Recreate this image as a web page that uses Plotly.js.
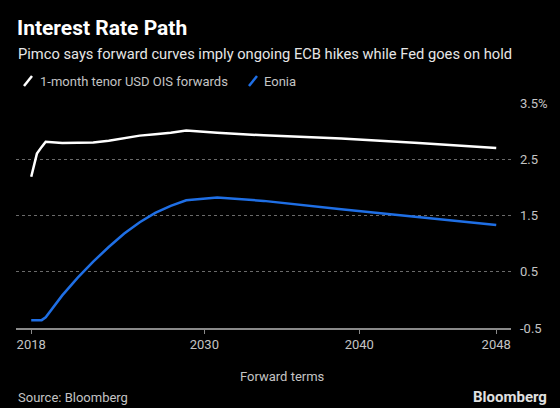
<!DOCTYPE html>
<html>
<head>
<meta charset="utf-8">
<script src="https://cdn.plot.ly/plotly-3.0.1.min.js"></script>
<style>
html,body{margin:0;padding:0;background:#000;}
#chart{width:560px;height:408px;}
</style>
</head>
<body>
<div id="chart"></div>
<script>
// Forward term dates (x) shared by both series
const forwardDates = ["2018-11-01","2018-12-28","2019-03-15","2019-07-05","2019-10-08",
  "2020-11-01","2021-11-01","2022-11-01","2023-11-01","2024-11-01","2025-11-01",
  "2026-11-01","2027-11-01","2028-11-01","2030-11-01","2033-11-01","2038-11-01",
  "2043-11-01","2048-11-01"];
// 1-month tenor USD OIS forwards (%)
const usdOis = [2.19,2.39,2.60,2.72,2.81,
  2.79,2.79,2.80,2.83,2.875,2.92,
  2.945,2.97,3.01,2.97,2.925,2.87,
  2.79,2.70];
// Eonia forwards (%)
const eonia = [-0.36,-0.36,-0.36,-0.36,-0.31,
  0.08,0.395,0.68,0.94,1.18,1.38,
  1.545,1.67,1.77,1.82,1.76,1.61,
  1.47,1.33];
const seriesNames = ["1-month tenor USD OIS forwards","Eonia"];
const xTickVals = ["2018-11-01","2030-01-01","2040-01-01","2048-11-01"];
const xTickText = ["2018","2030","2040","2048"];
const yTickVals = [-0.5,0.5,1.5,2.5,3.5];
const yTickText = ["-0.5","0.5","1.5","2.5","3.5%"];

const FONT = "Roboto, 'Liberation Sans', sans-serif";
const WHITE = "#ffffff", BLUE = "#1f6fe5", GREY = "#c4c4c4";

const traces = [
  {x: forwardDates, y: usdOis, name: seriesNames[0], type: "scatter", mode: "lines",
   line: {color: WHITE, width: 2.5}},
  {x: forwardDates, y: eonia, name: seriesNames[1], type: "scatter", mode: "lines",
   line: {color: BLUE, width: 2.5}}
];

const layout = {
  width: 560, height: 408,
  paper_bgcolor: "#000", plot_bgcolor: "#000",
  font: {family: FONT, color: GREY, size: 13},
  showlegend: false,
  margin: {l: 16, r: 49, t: 103, b: 80},
  xaxis: {
    type: "date",
    range: ["2017-11-07","2049-10-15"],
    tickvals: xTickVals, ticktext: xTickText,
    showgrid: false, zeroline: false,
    showline: true, linecolor: "#8a8a8a", linewidth: 1.5,
    ticks: "outside", ticklen: 4, tickcolor: "#8a8a8a", tickwidth: 1,
    tickfont: {family: FONT, size: 13, color: GREY}
  },
  yaxis: {
    side: "right",
    range: [-0.5, 3.5],
    tickvals: yTickVals, ticktext: yTickText,
    showgrid: true, gridcolor: "#6a6a6a", griddash: "dot", gridwidth: 1,
    zeroline: false, showline: false, ticks: "",
    ticklabelstandoff: 8,
    tickfont: {family: FONT, size: 13, color: GREY}
  },
  annotations: [
    {text: "<b>Interest Rate Path</b>", xref: "paper", yref: "paper", x: 0, y: 1,
     xanchor: "left", yanchor: "middle", showarrow: false,
     font: {family: FONT, size: 21, color: WHITE}},
    {text: "Pimco says forward curves imply ongoing ECB hikes while Fed goes on hold", showarrow: false,
     xref: "paper", yref: "paper", x: 0, y: 1, xanchor: "left", yanchor: "middle",
     font: {family: FONT, size: 14.7, color: "#e6e6e6"}},
    {text: seriesNames[0], showarrow: false, xref: "paper", yref: "paper", x: 0, y: 1,
     xanchor: "left", yanchor: "middle", font: {family: FONT, size: 13, color: GREY}},
    {text: seriesNames[1], showarrow: false, xref: "paper", yref: "paper", x: 0, y: 1,
     xanchor: "left", yanchor: "middle", font: {family: FONT, size: 13, color: GREY}},
    {text: "Forward terms", showarrow: false, xref: "paper", yref: "paper", x: 0, y: 0,
     xanchor: "center", yanchor: "middle", font: {family: FONT, size: 13, color: GREY}},
    {text: "Source: Bloomberg", showarrow: false, xref: "paper", yref: "paper", x: 0, y: 0,
     xanchor: "left", yanchor: "middle", font: {family: FONT, size: 13, color: GREY}},
    {text: "<b>Bloomberg</b>", showarrow: false, xref: "paper", yref: "paper", x: 1, y: 0,
     xanchor: "right", yanchor: "middle", font: {family: FONT, size: 15, color: "#e0e0e0"}}
  ],
  shapes: []
};

// Position page-level texts in pixel terms relative to the plot area
const plotL = 16, plotT = 103, plotW = 560 - 16 - 49, plotH = 408 - 103 - 80;
function px(x){ return (x - plotL) / plotW; }
function py(y){ return 1 - (y - plotT) / plotH; }
const pos = [[15,28],[16,54],[38,81],[262,81],[282,376],[16,397],[549,397]];
layout.annotations.forEach((a,i)=>{ a.x = px(pos[i][0]); a.y = py(pos[i][1]); });
// legend slash icons
layout.shapes.push({type:"line", xref:"paper", yref:"paper", x0:px(24), y0:py(86), x1:px(32), y1:py(76),
  line:{color:WHITE, width:2.5}});
layout.shapes.push({type:"line", xref:"paper", yref:"paper", x0:px(249), y0:py(86), x1:px(257), y1:py(76),
  line:{color:BLUE, width:2.5}});

Plotly.newPlot("chart", traces, layout, {displayModeBar: false, staticPlot: true});
</script>
</body>
</html>
